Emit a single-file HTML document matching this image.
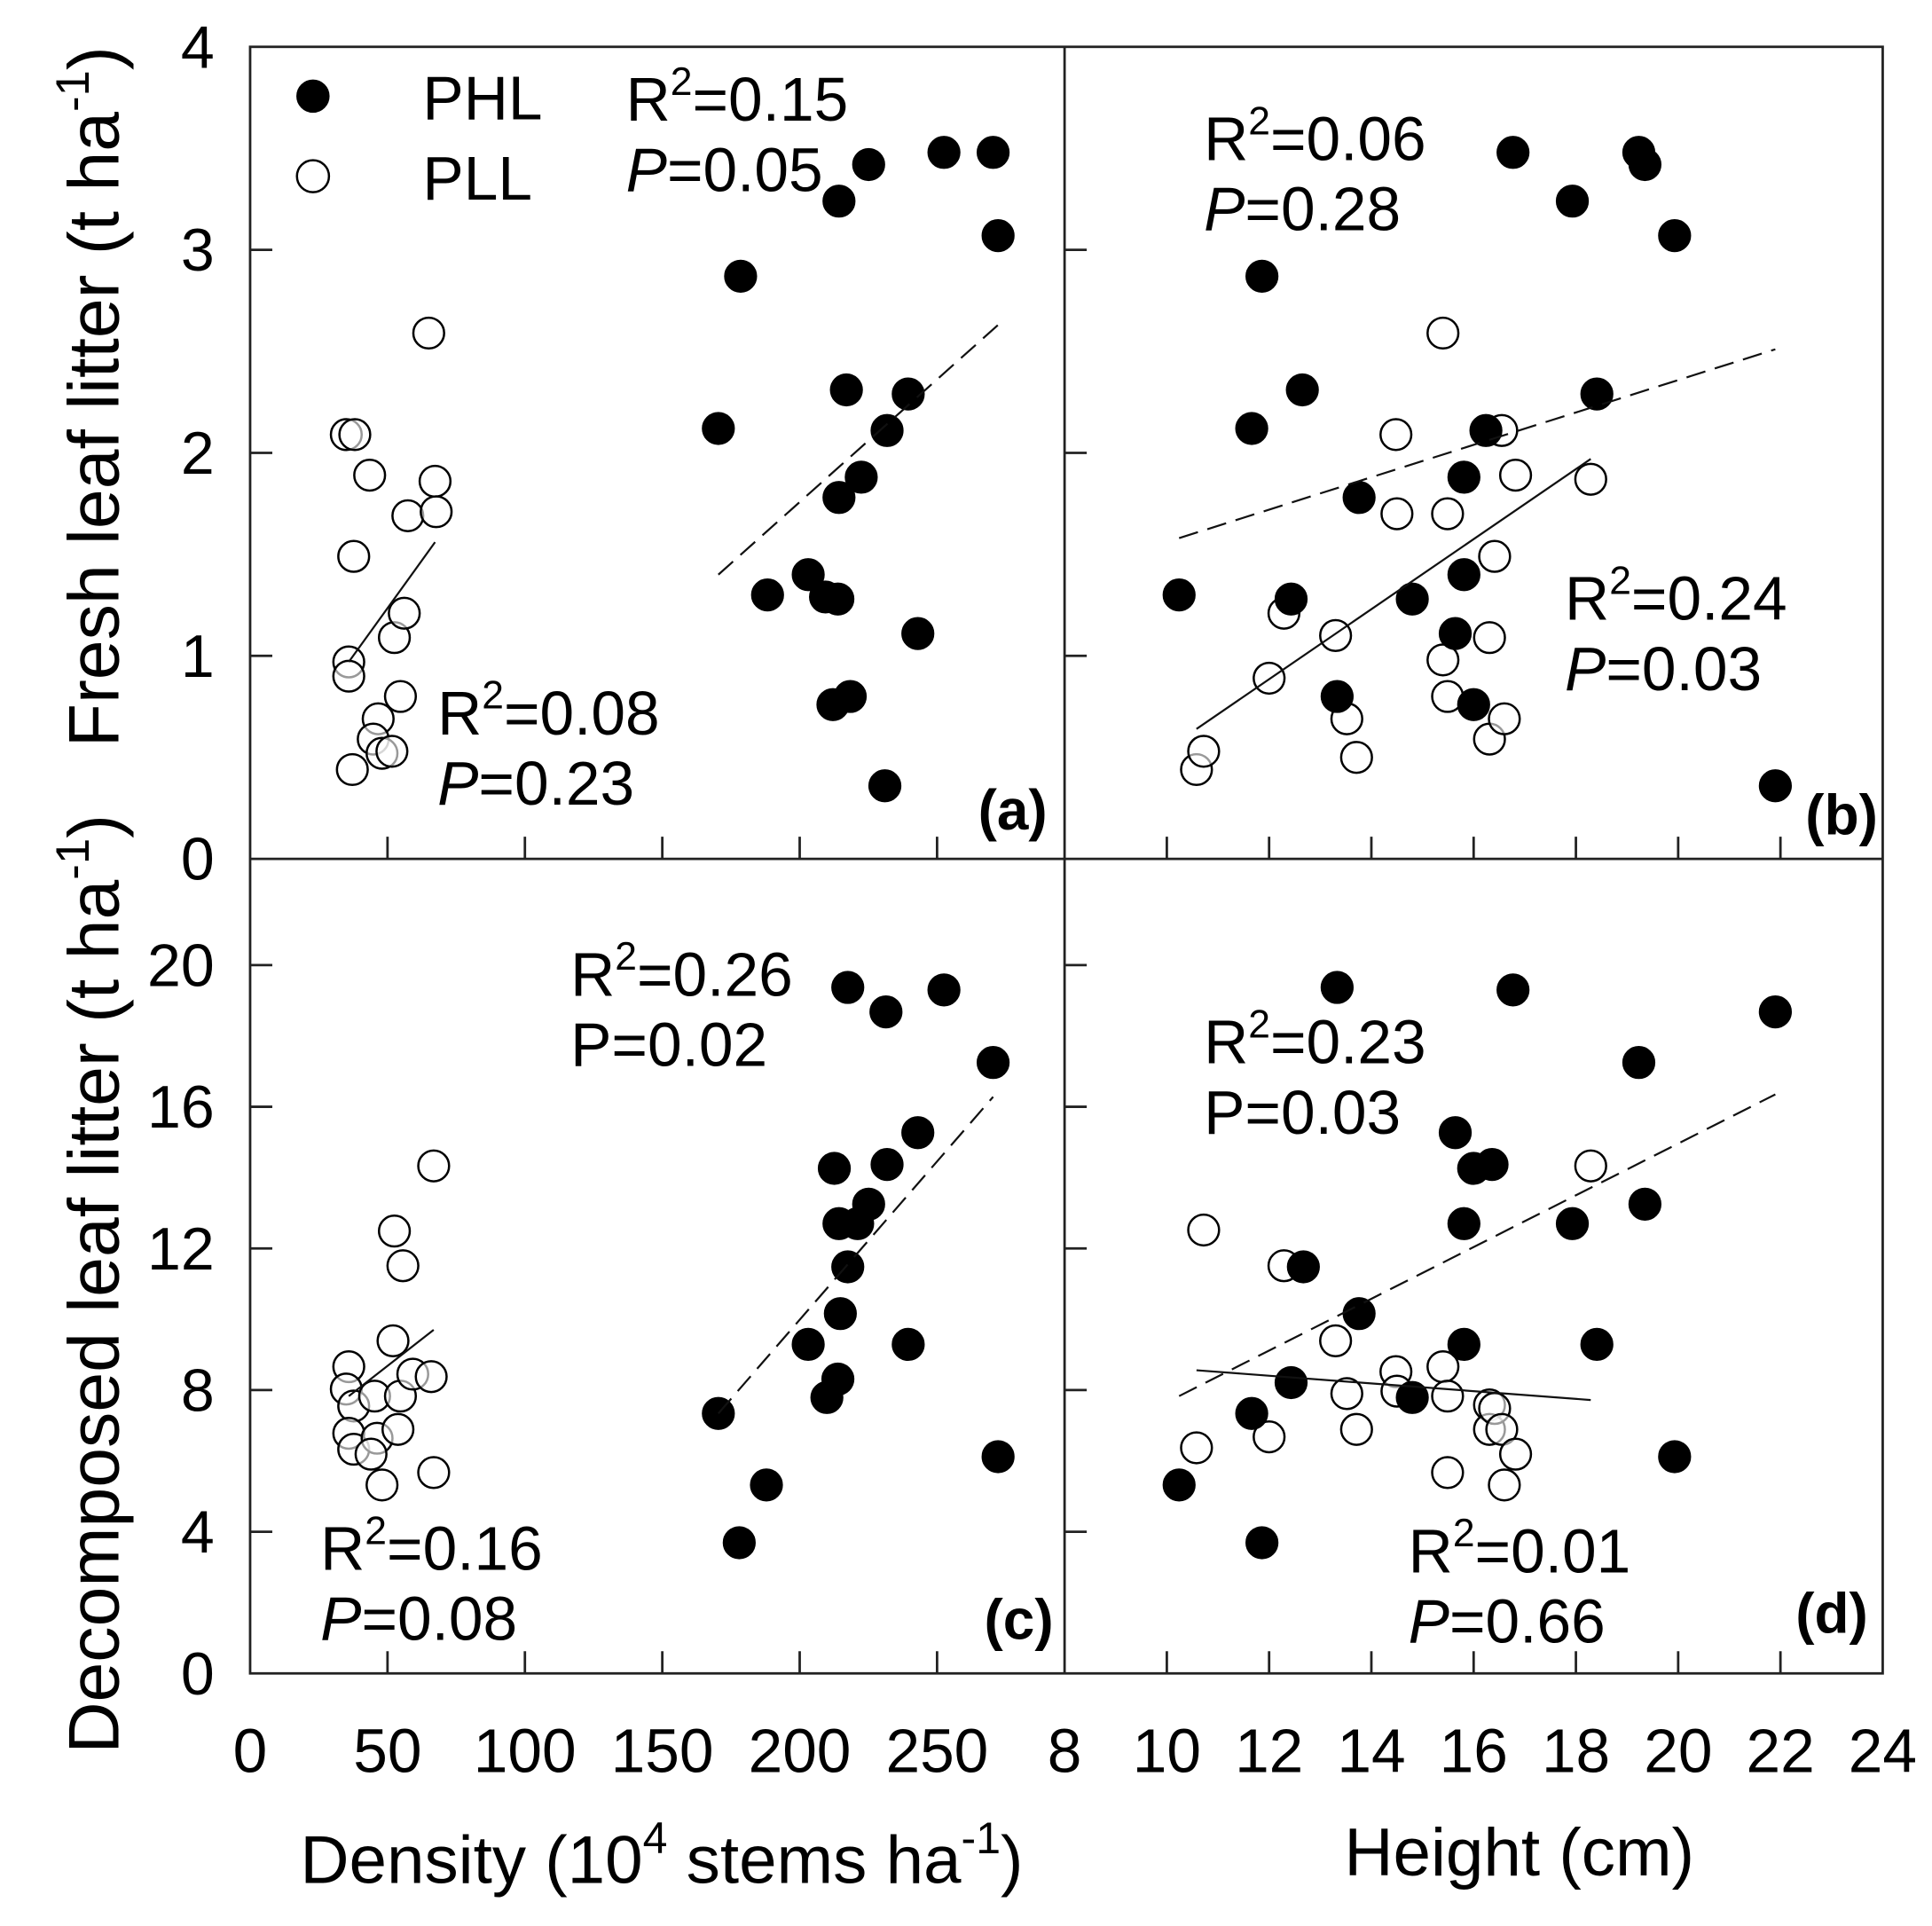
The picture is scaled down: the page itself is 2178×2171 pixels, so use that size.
<!DOCTYPE html>
<html><head><meta charset="utf-8"><style>
html,body{margin:0;padding:0;background:#fff;}
svg{display:block;font-family:"Liberation Sans",Arial,sans-serif;}
</style></head><body>
<svg id="chart" width="2178" height="2171" viewBox="0 0 1568 1563" preserveAspectRatio="none" xmlns="http://www.w3.org/2000/svg">
<rect x="0" y="0" width="1568" height="1563" fill="#fff"/>
<g id="marks"></g>
</svg>
<script>
// ---- data ----
const aPhlX=[170.4,178.5,188.3,203.1,209.4,213.9,212.1,218.4,214.3,214.3,217,222.4,225.1,231,231.8,239.5,243,252.5,270.4,272.2];
const aPhlY=[2.12,2.87,1.30,1.40,1.29,1.28,0.76,0.80,1.78,3.24,2.31,1.88,3.42,0.36,2.11,2.29,1.11,3.48,3.48,3.07];
const aPllX=[35,38.1,43.5,37.7,35.9,35.9,37.2,46.6,44.8,48,51.6,52.5,54.7,56.1,57.4,67.3,67.7,65];
const aPllY=[2.09,2.09,1.89,1.49,0.97,0.90,0.44,0.69,0.59,0.52,0.53,1.09,0.80,1.21,1.69,1.86,1.71,2.59];
const bPhlX=[10.24,11.66,11.86,12.43,12.65,13.33,13.76,14.8,15.64,15.81,15.81,16.0,16.24,16.77,17.93,18.41,19.23,19.35,19.93,21.9];
const bPhlY=[1.30,2.12,2.87,1.28,2.31,0.80,1.78,1.28,1.11,1.88,1.40,0.76,2.11,3.48,3.24,2.29,3.48,3.42,3.07,0.36];
const bPllX=[10.58,10.72,12.0,12.29,13.3,13.52,13.71,14.48,14.5,15.4,15.49,15.49,15.4,16.31,16.31,16.41,16.55,16.6,16.82,18.29];
const bPllY=[0.44,0.53,0.89,1.21,1.10,0.69,0.50,2.09,1.70,0.98,0.80,1.70,2.59,0.59,1.09,1.49,2.11,0.69,1.89,1.87];
const cPhlX=[170.4,178,187.9,203.1,209.9,213.9,212.6,214.3,217.5,214.8,225.1,221.1,231.8,243,239.5,217.5,231.4,252.5,270.4,272.2];
const cPhlY=[7.34,3.69,5.32,9.29,7.79,8.31,14.26,12.7,11.48,10.16,13.25,12.7,14.37,15.27,9.29,19.37,18.68,19.3,17.25,6.12];
const cPllX=[35.9,35,37.7,35.9,37.7,45.3,46.2,44,48,52,53.8,54.7,52.5,55.6,59.2,65.9,66.8,66.8];
const cPllY=[8.66,8.03,7.55,6.78,6.33,7.83,6.64,6.19,5.32,9.39,6.89,7.83,12.49,11.51,8.45,8.38,5.67,14.33];
const dPhlX=[10.24,11.66,11.86,12.43,12.67,13.33,13.76,14.8,15.64,15.81,15.81,16.0,16.36,16.77,17.93,18.41,19.23,19.35,19.93,21.9];
const dPhlY=[5.32,7.34,3.69,8.21,11.48,19.37,10.16,7.79,15.27,12.7,9.29,14.26,14.37,19.3,12.7,9.29,17.25,13.25,6.12,18.68];
const dPllX=[10.58,10.72,12,12.29,13.3,13.52,13.71,14.48,14.5,15.4,15.49,15.49,16.31,16.31,16.41,16.55,16.6,16.82,18.29];
const dPllY=[6.37,12.52,6.68,11.51,9.39,7.9,6.89,8.52,7.97,8.66,7.83,5.67,7.58,6.89,7.48,6.89,5.32,6.19,14.33];
// regression line endpoints [x0,x1] / [y0,y1]
const aPhlFitX=[170.4,272.2], aPhlFitY=[1.40,2.63];
const aPllFitX=[35.9,67.3], aPllFitY=[0.97,1.56];
const bPhlFitX=[10.24,21.9], bPhlFitY=[1.58,2.51];
const bPllFitX=[10.58,18.29], bPllFitY=[0.64,1.97];
const cPhlFitX=[170.4,270.4], cPhlFitY=[7.34,16.28];
const cPllFitX=[35.9,66.8], cPllFitY=[7.83,9.7];
const dPhlFitX=[10.24,21.9], dPhlFitY=[7.83,16.35];
const dPllFitX=[10.58,18.29], dPllFitY=[8.56,7.72];
const densTicks=[0,50,100,150,200,250];
const heightTicks=[8,10,12,14,16,18,20,22,24];
const freshTicks=[0,1,2,3,4];
const decTicks=[0,4,8,12,16,20];

// ---- axes ----
const L=203,M=864,R=1528,T=38,MID=697,B=1358;
const xDens=v=>L+(v/296.4)*(M-L);
const xHt=v=>M+(v-8)/16*(R-M);
const yFresh=v=>MID-v/4*(MID-T);
const yDec=v=>B-v/23*(B-MID);

const g=document.getElementById('marks');
const NS='http://www.w3.org/2000/svg';
function el(tag,attrs,parent){const e=document.createElementNS(NS,tag);for(const k in attrs)e.setAttribute(k,attrs[k]);(parent||g).appendChild(e);return e;}
function txt(x,y,s,size,anchor,name,extra){const e=el('text',Object.assign({x:x,y:y,'font-size':size,'text-anchor':anchor||'start',fill:'#000'},extra||{}));e.innerHTML=s;


return e;}

// frames
const fr=el('rect',{x:L,y:T,width:R-L,height:B-T,fill:'none',stroke:'#222','stroke-width':2});


const vl=el('line',{x1:M,y1:T,x2:M,y2:B,stroke:'#222','stroke-width':2});


const hl=el('line',{x1:L,y1:MID,x2:R,y2:MID,stroke:'#222','stroke-width':2});



// y ticks
freshTicks.forEach(v=>{const y=yFresh(v);
 if(v>0&&v<4){const t=el('line',{x1:L,y1:y,x2:L+18,y2:y,stroke:'#222','stroke-width':2});
 
 
 const t2=el('line',{x1:M,y1:y,x2:M+18,y2:y,stroke:'#222','stroke-width':2});
 
 }
 txt(174,y+17,String(v),49,'end','y-tick-label-fresh');});
decTicks.forEach(v=>{const y=yDec(v);
 if(v>0){const t=el('line',{x1:L,y1:y,x2:L+18,y2:y,stroke:'#222','stroke-width':2});
 
 
 const t2=el('line',{x1:M,y1:y,x2:M+18,y2:y,stroke:'#222','stroke-width':2});
 
 }
 txt(174,y+17,String(v),49,'end','y-tick-label-decomposed');});
// x ticks
densTicks.forEach(v=>{const x=xDens(v);
 if(v>0){const t=el('line',{x1:x,y1:B,x2:x,y2:B-18,stroke:'#222','stroke-width':2});
 
 
 const t2=el('line',{x1:x,y1:MID,x2:x,y2:MID-18,stroke:'#222','stroke-width':2});
 
 }
 txt(x,B+80,String(v),50,'middle','x-tick-label-density');});
heightTicks.forEach(v=>{const x=xHt(v);
 if(v>8&&v<24){const t=el('line',{x1:x,y1:B,x2:x,y2:B-18,stroke:'#222','stroke-width':2});
 
 
 const t2=el('line',{x1:x,y1:MID,x2:x,y2:MID-18,stroke:'#222','stroke-width':2});
 
 }
 txt(x,B+80,String(v),50,'middle','x-tick-label-height');});

// axis titles
txt(537,1528,'Density (10<tspan font-size="36" dy="-24">4</tspan><tspan dy="24"> stems ha</tspan><tspan font-size="36" dy="-24">-1</tspan><tspan dy="24">)</tspan>',55,'middle','x-axis-title-density');
txt(1233,1522,'Height (cm)',55,'middle','x-axis-title-height');
txt(0,0,'Fresh leaf litter (t ha<tspan font-size="38" dy="-24">-1</tspan><tspan dy="24">)</tspan>',58,'middle','y-axis-title-fresh',{transform:'translate(96,322) rotate(-90)'});
txt(0,0,'Decomposed leaf litter (t ha<tspan font-size="38" dy="-24">-1</tspan><tspan dy="24">)</tspan>',58,'middle','y-axis-title-decomposed',{transform:'translate(96,1042) rotate(-90)'});

// fit lines
function fit(xs,ys,fx,fy,dashed,name){const l=el('line',{x1:fx(xs[0]),y1:fy(ys[0]),x2:fx(xs[1]),y2:fy(ys[1]),stroke:'#111','stroke-width':1.6,'stroke-dasharray':dashed?'16 8':'none'});

}
// points
function pts(xs,ys,fx,fy,filled,name){xs.forEach((v,i)=>{const c=el('circle',{cx:fx(v),cy:fy(ys[i]),r:12.5,fill:filled?'#000':'#fff','fill-opacity':filled?1:0.6,stroke:'#000','stroke-width':1.8});

});}

pts(aPllX,aPllY,xDens,yFresh,false,'point-pll-a');
pts(aPhlX,aPhlY,xDens,yFresh,true,'point-phl-a');
pts(bPllX,bPllY,xHt,yFresh,false,'point-pll-b');
pts(bPhlX,bPhlY,xHt,yFresh,true,'point-phl-b');
pts(cPllX,cPllY,xDens,yDec,false,'point-pll-c');
pts(cPhlX,cPhlY,xDens,yDec,true,'point-phl-c');
pts(dPllX,dPllY,xHt,yDec,false,'point-pll-d');
pts(dPhlX,dPhlY,xHt,yDec,true,'point-phl-d');
fit(aPhlFitX,aPhlFitY,xDens,yFresh,true,'fit-line-phl-a');
fit(aPllFitX,aPllFitY,xDens,yFresh,false,'fit-line-pll-a');
fit(bPhlFitX,bPhlFitY,xHt,yFresh,true,'fit-line-phl-b');
fit(bPllFitX,bPllFitY,xHt,yFresh,false,'fit-line-pll-b');
fit(cPhlFitX,cPhlFitY,xDens,yDec,true,'fit-line-phl-c');
fit(cPllFitX,cPllFitY,xDens,yDec,false,'fit-line-pll-c');
fit(dPhlFitX,dPhlFitY,xHt,yDec,true,'fit-line-phl-d');
fit(dPllFitX,dPllFitY,xHt,yDec,false,'fit-line-pll-d');

// legend
const lg1=el('circle',{cx:254,cy:78,r:13,fill:'#000',stroke:'#000'});


const lg2=el('circle',{cx:254,cy:143,r:13,fill:'#fff',stroke:'#000','stroke-width':1.8});


txt(343,97,'PHL',50,'start','legend-label-phl');
txt(343,162,'PLL',50,'start','legend-label-pll');

// annotations
const S='<tspan font-size="32" dy="-21">2</tspan><tspan dy="21">';
function ann(x,y,r2,p,ital,name){txt(x,y,'R'+S+'='+r2+'</tspan>',50,'start',name+'-r2');
txt(x,y+57,(ital?'<tspan font-style="italic">P</tspan>':'P')+'='+p,50,'start',name+'-p');}
ann(508,98,'0.15','0.05',true,'annotation-a-phl');
ann(355,596,'0.08','0.23',true,'annotation-a-pll');
ann(977,130,'0.06','0.28',true,'annotation-b-phl');
ann(1270,503,'0.24','0.03',true,'annotation-b-pll');
ann(463,808,'0.26','0.02',false,'annotation-c-phl');
ann(260,1274,'0.16','0.08',true,'annotation-c-pll');
ann(977,863,'0.23','0.03',false,'annotation-d-phl');
ann(1143,1276,'0.01','0.66',true,'annotation-d-pll');
txt(850,673,'(a)',46,'end','panel-label-a',{'font-weight':'bold'});
txt(1524,677,'(b)',46,'end','panel-label-b',{'font-weight':'bold'});
txt(855,1330,'(c)',46,'end','panel-label-c',{'font-weight':'bold'});
txt(1516,1325,'(d)',46,'end','panel-label-d',{'font-weight':'bold'});
</script>
</body></html>
